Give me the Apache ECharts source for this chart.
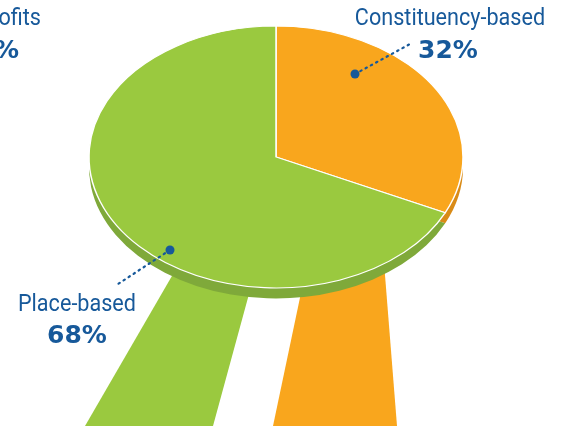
<!DOCTYPE html>
<html>
<head>
<meta charset="utf-8">
<script src="https://cdn.jsdelivr.net/npm/echarts@6/dist/echarts.min.js"></script>
<style>
  html, body { margin: 0; padding: 0; background: #fff; }
  #main { width: 564px; height: 426px; }
</style>
</head>
<body>
<div id="main"></div>
<script>
// shares of the pie, clockwise from 12 o'clock
const categories = ['Constituency-based', 'Place-based']
const shares = [32, 68]
const shareLabels = ['32%', '68%']

const topColors = ['#f9a61d', '#9ac93f']
const sideColors = ['#d98b17', '#7fa93a']
const blue = '#17599a'
const labelFont = '"Roboto", sans-serif'
const boldFont = '"DejaVu Sans", sans-serif'

const cx = 276, cy = 157, radius = 187, tilt = 0.7, depth = 10.5 / tilt
const total = shares.reduce((a, b) => a + b, 0)

function renderItem(params, api) {
    const i = params.dataIndex
    let before = 0
    for (let k = 0; k < i; k++) before += shares[k]
    const start = -Math.PI / 2 + before / total * Math.PI * 2
    const end = start + api.value(0) / total * Math.PI * 2
    return {
        type: 'group',
        originX: cx, originY: cy, scaleY: tilt,
        children: [
            {
                type: 'sector', z2: 1,
                shape: { cx: cx, cy: cy + depth, r: radius, startAngle: start, endAngle: end, clockwise: true },
                style: { fill: sideColors[i] }
            },
            {
                type: 'sector', z2: 10,
                shape: { cx: cx, cy: cy, r: radius, startAngle: start, endAngle: end, clockwise: true },
                style: { fill: topColors[i], stroke: '#fff', lineWidth: 1.5, strokeNoScale: true }
            }
        ]
    }
}

// condensed look: larger font squeezed horizontally
function text(x, y, str, size, weight, family, align, squeeze) {
    return {
        type: 'text', x: x, y: y, scaleX: squeeze || 1,
        style: { text: str, fill: blue, font: weight + ' ' + size + 'px ' + family, textAlign: align || 'center', textVerticalAlign: 'middle' }
    }
}

function leader(x1, y1, x2, y2) {
    return [
        { type: 'line', shape: { x1: x1, y1: y1, x2: x2, y2: y2 }, style: { stroke: blue, lineWidth: 2.2, lineDash: [1.5, 4.5], lineCap: 'round' }, z: 10 },
        { type: 'circle', shape: { cx: x1, cy: y1, r: 4.5 }, style: { fill: blue }, z: 10 }
    ]
}

const chart = echarts.init(document.getElementById('main'))
chart.setOption({
    backgroundColor: '#fff',
    animation: false,
    graphic: [
        // streams flowing out under the pie
        { type: 'polygon', z: 0, shape: { points: [[187, 250], [261, 250], [213, 426], [85, 426]] }, style: { fill: topColors[1] } },
        { type: 'polygon', z: 0, shape: { points: [[310, 250], [383, 250], [397, 426], [273, 426]] }, style: { fill: topColors[0] } },
        text(41, 19, 'Nonprofits', 24, 'normal', labelFont, 'right', 0.9),
        text(19, 51, '%', 25, 'bold', boldFont, 'right'),
        text(450, 19, categories[0], 24, 'normal', labelFont, 'center', 0.9),
        text(448, 51, shareLabels[0], 25, 'bold', boldFont),
        text(77, 305, categories[1], 24, 'normal', labelFont, 'center', 0.9),
        text(77, 336, shareLabels[1], 25, 'bold', boldFont),
        ...leader(355, 74, 410, 44),
        ...leader(170, 250, 118, 284)
    ],
    series: [{
        type: 'custom',
        coordinateSystem: 'none',
        z: 5,
        renderItem: renderItem,
        data: shares.map((v, i) => ({ name: categories[i], value: [v] }))
    }]
})
</script>
</body>
</html>
